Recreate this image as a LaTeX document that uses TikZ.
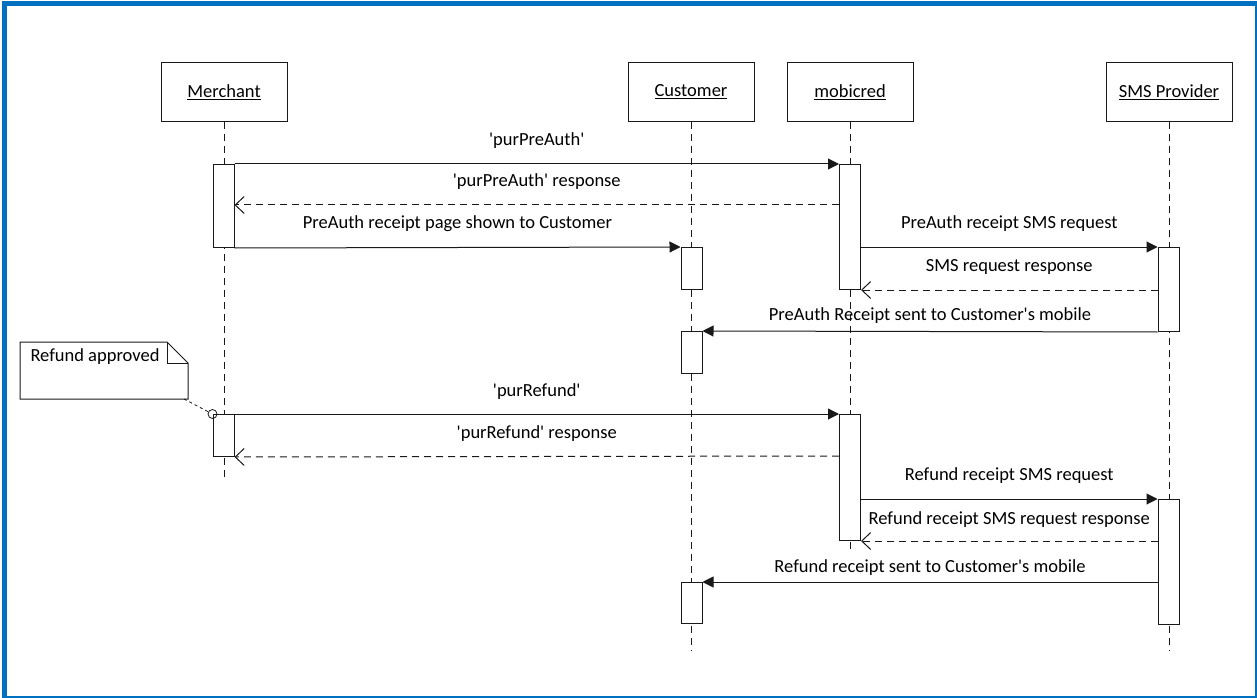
\documentclass[tikz,border=0pt]{standalone}
\usepackage{fontspec}
\setmainfont{Carlito}
\usetikzlibrary{arrows.meta}
\definecolor{frameblue}{RGB}{0,112,192}
\definecolor{ink}{RGB}{25,25,25}
\newcommand{\sq}{\textquotesingle}
\begin{document}
\begin{tikzpicture}[x=1bp,y=-1bp,line width=1bp,
  font=\fontsize{18.5bp}{22bp}\selectfont,
  actor/.style={draw=ink, fill=white, minimum width=126bp, minimum height=59bp, inner sep=0pt},
  act/.style={draw=ink, fill=white, minimum width=21bp, inner sep=0pt, anchor=north},
  life/.style={draw=ink, dash pattern=on 7bp off 5bp},
  sync/.style={draw=ink, -{Triangle[length=11bp,width=11bp]}},
  reply/.style={draw=ink, dash pattern=on 7bp off 5bp, -{Straight Barb[length=9bp,width=17bp]}},
  lab/.style={anchor=base, inner sep=0pt, text=black},
  notelink/.style={draw=ink, line width=0.8bp, dash pattern=on 3bp off 3bp}]
\useasboundingbox (0,0) rectangle (1257,698);
\fill[white] (0,0) rectangle (1257,698);
% frame
\draw[frameblue, line width=1.5bp] (1256,3) -- (1256,697.2) -- (4,697.2);
\draw[frameblue, line width=5bp] (4.5,698) -- (4.5,3.5) -- (1257,3.5);

% actors
\node[actor] (merchant) at (224,92) {\underline{Merchant}};
\node[actor] (customer) at (691,92) {\underline{Customer}};
\node[actor] (mobicred) at (850,92) {\underline{mobicred}};
\node[actor] (sms) at (1169,92) {\underline{SMS Provider}};

% lifeline ends
\coordinate (mEnd) at (224,479);
\coordinate (cEnd) at (691,651);
\coordinate (bEnd) at (850,552);
\coordinate (sEnd) at (1169,651);
\draw[life] (merchant.south) -- (mEnd);
\draw[life] (customer.south) -- (cEnd);
\draw[life] (mobicred.south) -- (bEnd);
\draw[life] (sms.south) -- (sEnd);

% activations
\node[act, minimum height=83bp] (m1) at (223.5,164) {};
\node[act, minimum height=42bp] (m2) at (223.5,414) {};
\node[act, minimum height=42bp] (c1) at (691.5,247) {};
\node[act, minimum height=42bp] (c2) at (691.5,331) {};
\node[act, minimum height=41bp] (c3) at (691.5,582) {};
\node[act, minimum height=125bp] (b1) at (850,164) {};
\node[act, minimum height=126bp] (b2) at (850,414) {};
\node[act, minimum height=84bp] (s1) at (1168.5,247) {};
\node[act, minimum height=125bp] (s2) at (1168.5,499) {};

% message rows
\coordinate (r2) at (0,205);
\coordinate (r9) at (0,456);

% messages
\draw[sync] (m1.north east) -- node[lab, yshift=18bp] {\sq purPreAuth\sq} (b1.north west);
\draw[reply] (b1.west |- r2) -- node[lab, yshift=18bp] {\sq purPreAuth\sq\ response} (m1.east |- r2);
\draw[sync] (m1.south east) -- node[lab, yshift=19bp] {PreAuth receipt page shown to Customer} (c1.north west);
\draw[sync] (b1.east |- s1.north) -- node[lab, yshift=18bp] {PreAuth receipt SMS request} (s1.north west);
\draw[reply] (s1.west |- b1.south) -- node[lab, yshift=19bp] {SMS request response} (b1.south east);
\draw[sync] (s1.south west) -- node[lab, yshift=11bp] {PreAuth Receipt sent to Customer\sq s mobile} (c2.north east);

% note
\node[minimum width=167bp, minimum height=56bp, inner sep=0pt, anchor=north west] (note) at (20,342) {};
\draw[draw=ink] (note.north west) -- ([xshift=-21bp]note.north east) -- ([yshift=-21bp]note.north east) -- (note.south east) -- (note.south west) -- cycle;
\draw[draw=ink] ([xshift=-21bp]note.north east) -- ([xshift=-21bp,yshift=-21bp]note.north east) -- ([yshift=-21bp]note.north east);
\node[anchor=base west, inner sep=0pt] (notetext) at (30,361) {Refund approved};
\node[circle, draw=ink, line width=0.8bp, inner sep=0pt, minimum size=9bp] (pin) at (m2.north west) {};
\draw[notelink] ([xshift=-4bp]note.south east) -- (pin);

\draw[sync] (m2.north east) -- node[lab, yshift=18bp] {\sq purRefund\sq} (b2.north west);
\draw[reply] (b2.west |- r9) -- node[lab, yshift=18bp] {\sq purRefund\sq\ response} (m2.south east);
\draw[sync] (b2.east |- s2.north) -- node[lab, yshift=19bp] {Refund receipt SMS request} (s2.north west);
\draw[reply] (s2.west |- b2.south) -- node[lab, yshift=17bp] {Refund receipt SMS request response} (b2.south east);
\draw[sync] (s2.west |- c3.north) -- node[lab, yshift=10bp] {Refund receipt sent to Customer\sq s mobile} (c3.north east);
\end{tikzpicture}
\end{document}
